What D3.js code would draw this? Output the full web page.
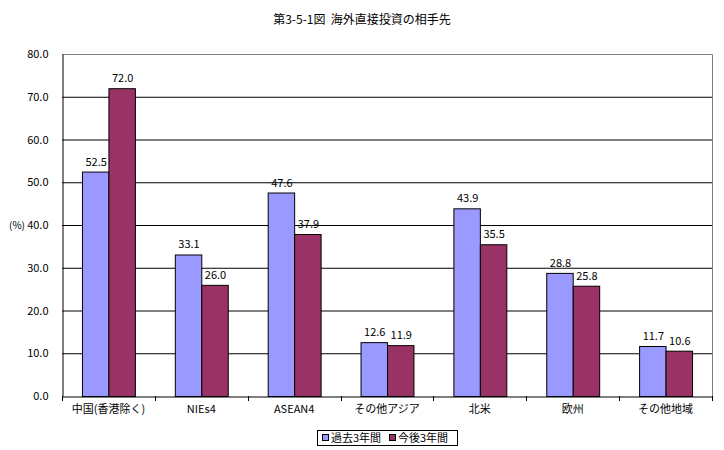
<!DOCTYPE html>
<html><head><meta charset="utf-8">
<script src="https://cdn.jsdelivr.net/npm/d3@7"></script>
<style>body{margin:0;background:#fff}svg{display:block}text{font-family:"Noto Sans CJK JP","Noto Sans",sans-serif;fill:#000}</style>
</head><body>
<svg id="c" width="724" height="450"></svg>
<script>
const categories = ["中国(香港除く)","NIEs4","ASEAN4","その他アジア","北米","欧州","その他地域"];
const seriesNames = ["過去3年間","今後3年間"];
const past = [52.5,33.1,47.6,12.6,43.9,28.8,11.7];
const future = [72.0,26.0,37.9,11.9,35.5,25.8,10.6];
const yTicks = [0,10,20,30,40,50,60,70,80];
const colors = ["#9999FF","#993366"];

const svg = d3.select("#c");
const L=62,R=712,T=54,B=396;
const x = d3.scaleBand().domain(categories).range([L,R]).paddingInner(0.43).paddingOuter(0.215);
const xs = d3.scaleBand().domain([0,1]).range([0,x.bandwidth()]);
const y = d3.scaleLinear().domain([0,80]).range([B,T]);

svg.append("text").attr("x",362).attr("y",24).attr("text-anchor","middle").attr("font-size",12).attr("xml:space","preserve").text("第3-5-1図  海外直接投資の相手先");

// gridlines
svg.append("g").selectAll("line").data(yTicks.filter(d=>d>0&&d<80)).join("line")
 .attr("x1",L).attr("x2",R).attr("y1",d=>y(d)+0.5).attr("y2",d=>y(d)+0.5).attr("stroke","#000");
// border top/right
svg.append("path").attr("d",`M${L},${T+0.5}H${R+0.5}V${B}`).attr("fill","none").attr("stroke","#808080");

// y axis
const ya = svg.append("g").attr("transform",`translate(${L+0.5},0)`).call(d3.axisLeft(y).tickValues(yTicks).tickFormat(d3.format(".1f")).tickSize(0).tickPadding(14));
ya.select(".domain").attr("stroke","#000");
ya.selectAll("text").attr("font-size",11).style("font-family",'"Noto Sans CJK JP",sans-serif');
svg.append("text").attr("x",9).attr("y",y(40)+4).attr("font-size",10).text("(%)");

// bars
const data = categories.map((c,i)=>({c,v:[past[i],future[i]]}));
const g = svg.append("g").selectAll("g").data(data).join("g").attr("transform",d=>`translate(${x(d.c)},0)`);
g.selectAll("rect").data(d=>d.v.map((v,k)=>({v,k}))).join("rect")
 .attr("x",d=>xs(d.k)+0.5).attr("y",d=>y(d.v)+0.5).attr("width",xs.bandwidth()).attr("height",d=>B-y(d.v))
 .attr("fill",d=>colors[d.k]).attr("stroke","#000");
g.selectAll("text").data(d=>d.v.map((v,k)=>({v,k}))).join("text")
 .attr("x",d=>xs(d.k)+xs.bandwidth()/2+1).attr("y",d=>y(d.v)-6).attr("text-anchor","middle").attr("font-size",11)
 .text(d=>d.v.toFixed(1));

// x axis
const xa = svg.append("g").attr("transform",`translate(0,${B+0.5})`).call(d3.axisBottom(x).tickSize(0).tickPadding(9));
xa.select(".domain").attr("stroke","#000");
xa.selectAll("text").attr("font-size",11).style("font-family",'"Noto Sans CJK JP",sans-serif');
const bounds = d3.range(categories.length+1).map(i=>L+(R-L)*i/categories.length);
svg.append("g").selectAll("line").data(bounds).join("line")
 .attr("x1",d=>Math.round(d)+0.5).attr("x2",d=>Math.round(d)+0.5).attr("y1",B).attr("y2",B+5).attr("stroke","#000");

// legend
const lg = svg.append("g");
lg.append("rect").attr("x",317.5).attr("y",430.5).attr("width",140).attr("height",15).attr("fill","#fff").attr("stroke","#000");
const items = [[322,seriesNames[0]],[389,seriesNames[1]]];
items.forEach(([lx,name],k)=>{
 lg.append("rect").attr("x",lx+0.5).attr("y",434.5).attr("width",6).attr("height",6).attr("fill",colors[k]).attr("stroke","#000");
 lg.append("text").attr("x",lx+9).attr("y",442).attr("font-size",11).text(name);
});
</script>
</body></html>
